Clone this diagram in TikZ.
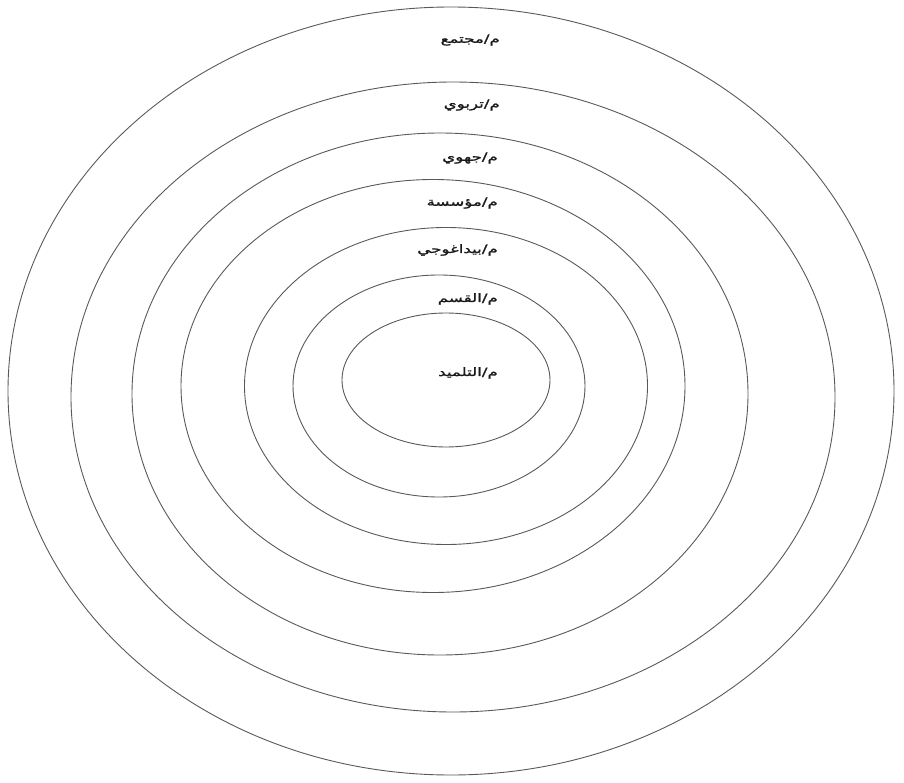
\documentclass[tikz,border=0pt]{standalone}
\usepackage{fontspec}
\usetikzlibrary{shapes.geometric}
\TeXXeTstate=1
\newfontfamily\arabicfont[Script=Arabic,FakeStretch=1.45,FakeBold=1.5]{DejaVu Sans}
\tikzset{
  ring/.style={ellipse, draw=black!65, line width=0.9pt, inner sep=0pt, fill=none},
  lbl/.style={anchor=east, inner sep=0pt, font=\arabicfont\fontsize{11.5}{13}\selectfont, text=black!90}
}
\begin{document}
\begin{tikzpicture}[x=1pt,y=-1pt]
\useasboundingbox (0,0) rectangle (904,783);
\node[ring, minimum width=886pt, minimum height=768pt] (e1) at (451,391) {};
\node[ring, minimum width=764pt, minimum height=630pt] (e2) at (453,397) {};
\node[ring, minimum width=616pt, minimum height=522pt] (e3) at (440,394) {};
\node[ring, minimum width=504pt, minimum height=413pt] (e4) at (433,386) {};
\node[ring, minimum width=403pt, minimum height=317pt] (e5) at (446,386) {};
\node[ring, minimum width=292pt, minimum height=222pt] (e6) at (439,386) {};
\node[ring, minimum width=208pt, minimum height=134pt] (e7) at (446,380) {};
\node[lbl] (t1) at (500,40) {\beginR م/مجتمع\endR};
\node[lbl] (t2) at (500,105) {\beginR م/تربوي\endR};
\node[lbl] (t3) at (498,158) {\beginR م/جهوي\endR};
\node[lbl] (t4) at (498,203) {\beginR م/مؤسسة\endR};
\node[lbl] (t5) at (498,250) {\beginR م/بيداغوجي\endR};
\node[lbl] (t6) at (498,299) {\beginR م/القسم\endR};
\node[lbl] (t7) at (498,373) {\beginR م/التلميد\endR};
\end{tikzpicture}
\end{document}
